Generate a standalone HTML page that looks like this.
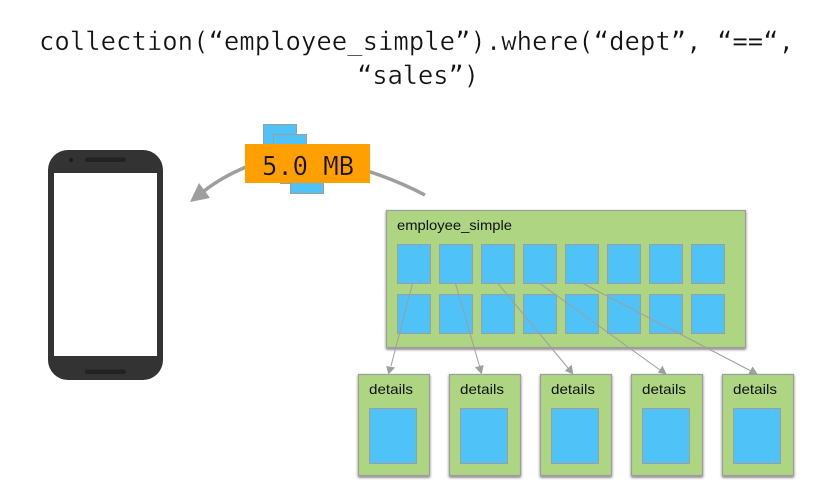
<!DOCTYPE html>
<html>
<head>
<meta charset="utf-8">
<style>
html,body{margin:0;padding:0;background:#fff;width:834px;height:495px;overflow:hidden}
svg{display:block}
.m{font-family:"DejaVu Sans Mono","Liberation Mono",monospace;fill:#111;stroke:#fff;stroke-width:.35}
.o{stroke:#ff9f00}
.s{font-family:"Liberation Sans",sans-serif;fill:#111;font-size:14px}
.b{fill:#4fc3f7;stroke:#9e9e9e;stroke-width:1}
.g{fill:#aed581;stroke:#9e9e9e;stroke-width:1.2;filter:url(#sh)}
.c{fill:none;stroke:#9e9e9e;stroke-width:1}
.h{fill:#9e9e9e}
</style>
</head>
<body>
<svg width="834" height="495" viewBox="0 0 834 495" xmlns="http://www.w3.org/2000/svg">
<defs>
<filter id="sh" x="-10%" y="-10%" width="120%" height="120%">
<feDropShadow dx="0" dy="1.5" stdDeviation="1.2" flood-color="#000" flood-opacity="0.55"/>
</filter>
</defs>

<text class="m" x="39" y="50" font-size="25.6" textLength="755" lengthAdjust="spacing">collection(“employee_simple”).where(“dept”, “==“,</text>
<text class="m" x="357" y="84" font-size="25.6" textLength="122" lengthAdjust="spacing">“sales”)</text>

<!-- phone -->
<rect x="48" y="150" width="115" height="230" rx="20" ry="20" fill="#333"/>
<rect x="54" y="173" width="103" height="183" fill="#fff"/>
<rect x="85" y="157.500" width="41" height="4.500" rx="2.200" fill="#222"/>
<rect x="85" y="369.500" width="41" height="4.500" rx="2.200" fill="#222"/>
<circle cx="71" cy="160" r="2" fill="#1c1c1c"/>

<!-- transfer -->
<path d="M246 167 Q222 177 204 191" fill="none" stroke="#9e9e9e" stroke-width="3.500"/>
<polygon class="h" points="190,202 199,183 210,198"/>
<path d="M369 171.500 Q398 181 425 195" fill="none" stroke="#9e9e9e" stroke-width="3.500"/>
<rect class="b" x="263.500" y="124.500" width="33" height="39"/>
<rect class="b" x="273.500" y="134.500" width="33" height="39"/>
<rect class="b" x="280.500" y="144.500" width="33" height="39"/>
<rect class="b" x="290.500" y="154.500" width="33" height="39"/>
<rect x="245" y="144" width="125" height="39" fill="#ff9f00"/>
<text class="m o" x="262" y="175" font-size="25.6" textLength="92" lengthAdjust="spacing">5.0 MB</text>

<!-- main collection -->
<rect class="g" x="386.500" y="210.500" width="359" height="137"/>
<text class="s" x="397" y="230" textLength="115" lengthAdjust="spacingAndGlyphs">employee_simple</text>
<rect class="b" x="397.500" y="244.500" width="33" height="39"/>
<rect class="b" x="439.500" y="244.500" width="33" height="39"/>
<rect class="b" x="481.500" y="244.500" width="33" height="39"/>
<rect class="b" x="523.500" y="244.500" width="33" height="39"/>
<rect class="b" x="565.500" y="244.500" width="33" height="39"/>
<rect class="b" x="607.500" y="244.500" width="33" height="39"/>
<rect class="b" x="649.500" y="244.500" width="33" height="39"/>
<rect class="b" x="691.500" y="244.500" width="33" height="39"/>
<rect class="b" x="397.500" y="294.500" width="33" height="39"/>
<rect class="b" x="439.500" y="294.500" width="33" height="39"/>
<rect class="b" x="481.500" y="294.500" width="33" height="39"/>
<rect class="b" x="523.500" y="294.500" width="33" height="39"/>
<rect class="b" x="565.500" y="294.500" width="33" height="39"/>
<rect class="b" x="607.500" y="294.500" width="33" height="39"/>
<rect class="b" x="649.500" y="294.500" width="33" height="39"/>
<rect class="b" x="691.500" y="294.500" width="33" height="39"/>

<!-- details -->
<rect class="g" x="358.500" y="374.500" width="71" height="101"/>
<rect class="g" x="449.500" y="374.500" width="71" height="101"/>
<rect class="g" x="540.500" y="374.500" width="71" height="101"/>
<rect class="g" x="631.500" y="374.500" width="71" height="101"/>
<rect class="g" x="722.500" y="374.500" width="71" height="101"/>
<text class="s" x="369" y="394" textLength="44" lengthAdjust="spacingAndGlyphs">details</text>
<text class="s" x="460" y="394" textLength="44" lengthAdjust="spacingAndGlyphs">details</text>
<text class="s" x="551" y="394" textLength="44" lengthAdjust="spacingAndGlyphs">details</text>
<text class="s" x="642" y="394" textLength="44" lengthAdjust="spacingAndGlyphs">details</text>
<text class="s" x="733" y="394" textLength="44" lengthAdjust="spacingAndGlyphs">details</text>
<rect class="b" x="369.500" y="408.500" width="47" height="55"/>
<rect class="b" x="460.500" y="408.500" width="47" height="55"/>
<rect class="b" x="551.500" y="408.500" width="47" height="55"/>
<rect class="b" x="642.500" y="408.500" width="47" height="55"/>
<rect class="b" x="733.500" y="408.500" width="47" height="55"/>

<!-- connectors -->
<line class="c" x1="412.500" y1="283.500" x2="391" y2="366"/>
<polygon class="h" points="388.300,374.500 386.300,366 395.200,367.500"/>
<line class="c" x1="455.500" y1="283.500" x2="479.500" y2="366"/>
<polygon class="h" points="481.700,374.500 475,367.300 483.600,365"/>
<line class="c" x1="498" y1="283.500" x2="568" y2="368"/>
<polygon class="h" points="573.300,374.500 564.800,370.700 571.700,364.800"/>
<line class="c" x1="540" y1="283.500" x2="660" y2="370"/>
<polygon class="h" points="666.700,374.500 657.800,372.800 662.500,365.800"/>
<line class="c" x1="583" y1="283.500" x2="751" y2="371"/>
<polygon class="h" points="757.900,374.500 748,374.500 752.600,366.500"/>
</svg>
</body>
</html>
